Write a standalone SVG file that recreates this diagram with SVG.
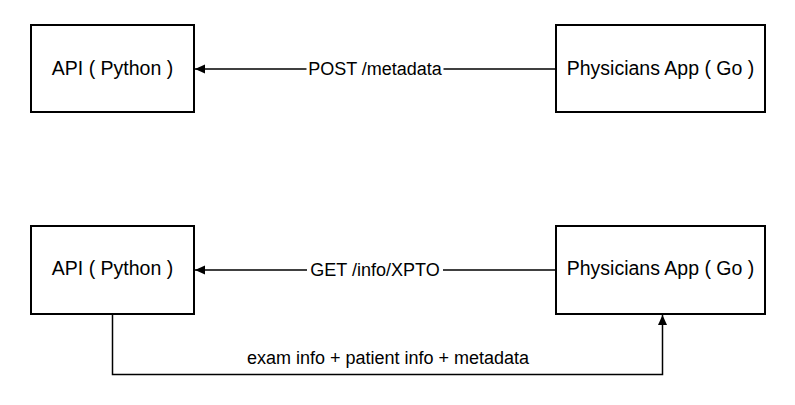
<svg xmlns="http://www.w3.org/2000/svg" width="795" height="405" viewBox="0 0 795 405">
<defs>
<style>
.box{fill:#fff;stroke:#000;stroke-width:2}
.nt{font-family:"Liberation Sans",Arial,sans-serif;font-size:19.5px;fill:#000;text-anchor:middle}
.lt{font-family:"Liberation Sans",Arial,sans-serif;font-size:18px;fill:#000;text-anchor:middle}
.ln{fill:none;stroke:#000;stroke-width:1.5}
.bg{fill:#fff}
</style>
<marker id="ah" viewBox="0 0 10 10" refX="10" refY="5" markerWidth="10" markerHeight="10" markerUnits="userSpaceOnUse" orient="auto">
<path d="M0,0.5 L10,5 L0,9.5 Z" fill="#000"/>
</marker>
</defs>
<rect width="795" height="405" fill="#fff"/>
<g id="connectors">
<line class="ln" x1="556" y1="69" x2="195" y2="69" marker-end="url(#ah)"/>
<rect class="bg" x="306.5" y="58" width="137" height="22"/>
<text class="lt" x="375" y="75">POST /metadata</text>
<line class="ln" x1="556" y1="270" x2="195" y2="270" marker-end="url(#ah)"/>
<rect class="bg" x="307" y="259" width="136" height="22"/>
<text class="lt" x="375" y="276">GET /info/XPTO</text>
<polyline class="ln" points="112.5,315 112.5,374.5 662.5,374.5 662.5,315" marker-end="url(#ah)"/>
<text class="lt" x="388" y="363.5">exam info + patient info + metadata</text>
</g>
<g id="api-top">
<rect class="box" x="31" y="25" width="163" height="87"/>
<text class="nt" x="112.5" y="74.5">API ( Python )</text>
</g>
<g id="app-top">
<rect class="box" x="556" y="25" width="209" height="87"/>
<text class="nt" x="660.5" y="74.5">Physicians App ( Go )</text>
</g>
<g id="api-bottom">
<rect class="box" x="31" y="226" width="163" height="88"/>
<text class="nt" x="112.5" y="275">API ( Python )</text>
</g>
<g id="app-bottom">
<rect class="box" x="556" y="226" width="209" height="88"/>
<text class="nt" x="660.5" y="275">Physicians App ( Go )</text>
</g>
</svg>
